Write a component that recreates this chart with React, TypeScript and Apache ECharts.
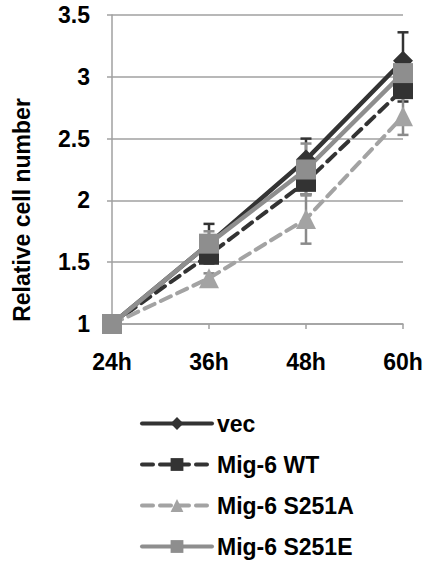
import React, { useEffect, useRef } from "react";
import * as echarts from "echarts";

const categories = ["24h", "36h", "48h", "60h"];
const seriesNames = ["vec", "Mig-6 WT", "Mig-6 S251A", "Mig-6 S251E"];
const vecValues = [1, 1.65, 2.33, 3.13];
const wtValues = [1, 1.56, 2.15, 2.9];
const s251aValues = [1, 1.37, 1.85, 2.68];
const s251eValues = [1, 1.65, 2.25, 3.03];
const vecErr = [0, 0.16, 0.17, 0.23];
const wtErr = [0, 0.05, 0.1, 0.1];
const s251aErr = [0, 0.04, 0.2, 0.15];
const s251eErr = [0, 0.1, 0.21, 0.12];
const yTicks = { min: 1, max: 3.5, interval: 0.5 };

const FONT = "'Liberation Sans', Arial, Helvetica, sans-serif";

export default function App() {
  const ref = useRef<HTMLDivElement>(null);
  useEffect(() => {
    if (!ref.current) return;
    const chart = echarts.init(ref.current, null, { renderer: "svg" });

    const styles = [
      { color: "#333333", type: "solid", symbol: "diamond", width: 4.5, errColor: "#333333" },
      { color: "#333333", type: [11, 7], symbol: "rect", width: 4, errColor: "#333333" },
      { color: "#a3a3a3", type: [11, 7], symbol: "triangle", width: 4, errColor: "#8a8a8a" },
      { color: "#8e8e8e", type: "solid", symbol: "rect", width: 4.5, errColor: "#8e8e8e" },
    ];
    const values = [vecValues, wtValues, s251aValues, s251eValues];
    const errs = [vecErr, wtErr, s251aErr, s251eErr];

    const series: any[] = [];
    seriesNames.forEach((name, i) => {
      const st = styles[i];
      series.push({
        name,
        type: "line",
        data: values[i],
        symbol: st.symbol,
        symbolSize: 20,
        showAllSymbol: true,
        lineStyle: { color: st.color, width: st.width, type: st.type, cap: "round" },
        itemStyle: { color: st.color, borderWidth: 0 },
      });
      series.push({
        name: name + "-err",
        type: "custom",
        data: values[i]
          .map((v, j) => [j, v, errs[i][j]])
          .filter((d) => d[2] > 0),
        renderItem: (params: any, api: any) => {
          const x = api.value(0);
          const v = api.value(1);
          const e = api.value(2);
          const hi = api.coord([x, v + e]);
          const lo = api.coord([x, v - e]);
          const w = 5.5;
          const style = { stroke: st.errColor, lineWidth: 2.5 };
          return {
            type: "group",
            children: [
              { type: "line", shape: { x1: hi[0], y1: hi[1], x2: lo[0], y2: lo[1] }, style },
              { type: "line", shape: { x1: hi[0] - w, y1: hi[1], x2: hi[0] + w, y2: hi[1] }, style },
              { type: "line", shape: { x1: lo[0] - w, y1: lo[1], x2: lo[0] + w, y2: lo[1] }, style },
            ],
          };
        },
      });
    });

    chart.setOption({
      animation: false,
      backgroundColor: "#ffffff",
      grid: { left: 112, right: 24, top: 15, height: 309 },
      xAxis: {
        type: "category",
        data: categories,
        boundaryGap: false,
        axisLine: { lineStyle: { color: "#a0a0a0", width: 1.5 } },
        axisTick: { show: true, length: 5, lineStyle: { color: "#a0a0a0", width: 1.5 } },
        axisLabel: { color: "#000", fontSize: 23, fontWeight: "bold", fontFamily: FONT, margin: 26 },
        splitLine: { show: false },
      },
      yAxis: {
        type: "value",
        min: yTicks.min,
        max: yTicks.max,
        interval: yTicks.interval,
        axisLine: { show: true, lineStyle: { color: "#a0a0a0", width: 1.5 } },
        axisTick: { show: true, length: 5, lineStyle: { color: "#a0a0a0", width: 1.5 } },
        axisLabel: { color: "#000", fontSize: 23, fontWeight: "bold", fontFamily: FONT, margin: 22 },
        splitLine: { show: true, lineStyle: { color: "#a0a0a0", width: 1.5 } },
      },
      legend: {
        data: seriesNames,
        orient: "vertical",
        left: 135,
        top: 407,
        itemWidth: 70,
        itemHeight: 16,
        itemGap: 18,
        itemTextGap: 6,
        lineStyle: { width: 4 },
        textStyle: { color: "#000", fontSize: 23, fontWeight: "bold", fontFamily: FONT },
      },
      graphic: [
        {
          type: "text",
          x: 22,
          y: 210,
          rotation: Math.PI / 2,
          style: {
            text: "Relative cell number",
            fill: "#000",
            font: `bold 23px ${FONT}`,
            textAlign: "center",
            textVerticalAlign: "middle",
          },
        },
      ],
      series,
    });
    return () => chart.dispose();
  }, []);
  return (
    <div
      ref={ref}
      style={{ position: "absolute", left: 0, top: 0, width: 427, height: 563 }}
    />
  );
}
